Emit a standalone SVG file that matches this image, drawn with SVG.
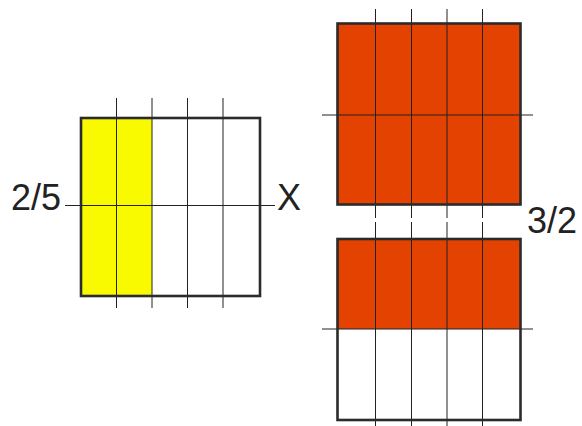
<svg xmlns="http://www.w3.org/2000/svg" width="582" height="426" viewBox="0 0 582 426">
<style>
.box{fill:none;stroke:#2b2b2b;stroke-width:2.6}
.grid{stroke:#222;stroke-width:1;fill:none}
.lbl{font-family:"Liberation Sans",Arial,sans-serif;font-size:36px;fill:#222}
</style>
<rect width="582" height="426" fill="#fff"/>
<g id="left-square">
<rect x="81" y="118" width="179" height="178" fill="#fff"/>
<rect x="81" y="118" width="71" height="178" fill="#f9f900"/>
<g class="grid">
<line x1="116.5" y1="98" x2="116.5" y2="308"/>
<line x1="152" y1="98" x2="152" y2="308"/>
<line x1="187.5" y1="98" x2="187.5" y2="308"/>
<line x1="223" y1="98" x2="223" y2="308"/>
<line x1="65" y1="205.5" x2="275" y2="205.5"/>
</g>
<rect class="box" x="81" y="118" width="179" height="178"/>
</g>
<g id="top-right-square">
<rect x="337.5" y="23.5" width="183" height="181" fill="#e34200"/>
<g class="grid">
<line x1="375.5" y1="9" x2="375.5" y2="218"/>
<line x1="411.5" y1="9" x2="411.5" y2="218"/>
<line x1="447" y1="9" x2="447" y2="218"/>
<line x1="482.5" y1="9" x2="482.5" y2="218"/>
<line x1="322" y1="115" x2="533" y2="115"/>
</g>
<rect class="box" x="337.5" y="23.5" width="183" height="181" stroke-width="3"/>
</g>
<g id="bottom-right-square">
<rect x="337.5" y="239" width="183" height="181" fill="#fff"/>
<rect x="337.5" y="239" width="183" height="90" fill="#e34200"/>
<g class="grid">
<line x1="375.5" y1="222" x2="375.5" y2="426"/>
<line x1="411.5" y1="222" x2="411.5" y2="426"/>
<line x1="447" y1="222" x2="447" y2="426"/>
<line x1="482.5" y1="222" x2="482.5" y2="426"/>
<line x1="322" y1="329" x2="533" y2="329"/>
</g>
<rect class="box" x="337.5" y="239" width="183" height="181" stroke-width="3"/>
</g>
<text class="lbl" x="11" y="210">2/5</text>
<text class="lbl" x="277" y="210">X</text>
<text class="lbl" x="527" y="232.5">3/2</text>
</svg>
